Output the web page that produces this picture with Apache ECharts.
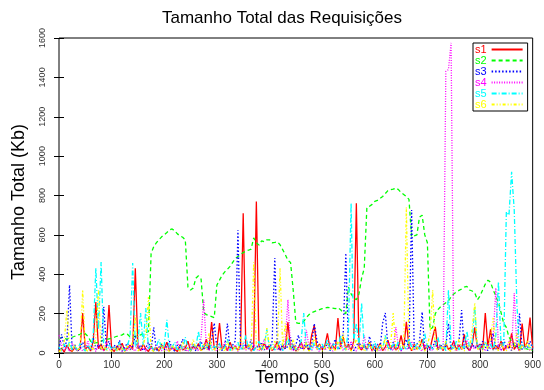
<!DOCTYPE html>
<html>
<head>
<meta charset="utf-8">
<script src="https://cdn.jsdelivr.net/npm/echarts@6/dist/echarts.min.js"></script>
<style>
  html, body { margin: 0; padding: 0; background: #fff; }
  #chart { width: 544px; height: 390px; }
</style>
</head>
<body>
<div id="chart"></div>
<script>
// Request size per client, one sample every 5 seconds (0 .. 900 s)
const sampleStep = 5;

const seriesNames = ['s1', 's2', 's3', 's4', 's5', 's6'];

const s1 = [
  10, 25, 5, 40, 15, 8, 30, 12, 20, 203, 18, 35, 10, 60, 259, 22, 45, 12, 30, 244,
  20, 8, 35, 15, 50, 10, 25, 40, 18, 431, 30, 12, 45, 20, 8, 35, 15, 28, 10, 40,
  22, 55, 12, 30, 18, 8, 42, 15, 25, 60, 10, 35, 20, 48, 12, 28, 70, 15, 157, 25,
  30, 152, 18, 40, 12, 55, 20, 35, 15, 45, 710, 25, 40, 10, 30, 770, 35, 15, 50, 20,
  40, 12, 28, 60, 15, 35, 22, 157, 18, 42, 10, 30, 55, 20, 38, 12, 90, 140, 25, 45,
  18, 35, 100, 20, 40, 15, 178, 30, 80, 22, 45, 12, 60, 760, 28, 15, 40, 20, 55, 10,
  35, 18, 48, 12, 30, 65, 20, 40, 15, 28, 90, 20, 159, 35, 12, 45, 20, 30, 70, 15,
  40, 22, 80, 133, 20, 35, 12, 50, 18, 30, 60, 15, 42, 20, 95, 28, 12, 40, 130, 25,
  45, 18, 203, 30, 120, 15, 38, 20, 60, 12, 35, 25, 100, 18, 40, 12, 150, 30, 55, 180,
  25
];

const s2 = [
  70, 80, 75, 70, 75, 80, 85, 90, 95, 103, 98, 85, 60, 50, 52, 55, 60, 65, 68, 72,
  75, 80, 85, 88, 92, 100, 95, 82, 80, 85, 88, 92, 98, 105, 108, 505, 540, 560, 575, 590,
  600, 612, 625, 630, 620, 605, 595, 588, 575, 335, 320, 330, 380, 392, 375, 205, 195, 190, 185, 180,
  345, 370, 395, 412, 425, 440, 460, 480, 490, 500, 510, 518, 522, 528, 585, 560, 548, 570, 565, 575,
  575, 560, 562, 565, 550, 525, 500, 470, 460, 320, 155, 150, 152, 160, 180, 195, 205, 210, 215, 220,
  225, 228, 232, 230, 228, 225, 230, 220, 205, 200, 335, 300, 280, 270, 300, 380, 430, 740, 745, 755,
  770, 775, 785, 795, 810, 825, 830, 832, 838, 830, 815, 805, 795, 780, 590, 595, 600, 690, 700, 600,
  560, 120, 130, 200, 220, 235, 245, 255, 265, 285, 300, 310, 318, 325, 335, 338, 320, 315, 305, 270,
  290, 320, 350, 370, 360, 320, 290, 255, 205, 150, 130, 80, 60, 40, 30, 25, 20, 25, 20, 15,
  15
];

const s3 = [
  20, 95, 30, 60, 345, 15, 40, 10, 25, 55, 18, 35, 12, 80, 20, 45, 15, 235, 30, 60,
  12, 40, 20, 65, 10, 30, 50, 15, 35, 90, 20, 40, 12, 28, 55, 18, 130, 10, 30, 45,
  15, 35, 60, 20, 10, 40, 25, 70, 12, 30, 18, 45, 10, 35, 60, 20, 40, 15, 65, 152,
  25, 45, 12, 35, 150, 20, 40, 60, 624, 30, 15, 45, 20, 70, 12, 35, 25, 55, 15, 40,
  20, 60, 482, 30, 12, 45, 20, 35, 80, 15, 40, 91, 18, 30, 55, 12, 40, 150, 65, 15,
  35, 20, 50, 12, 40, 70, 18, 30, 95, 507, 25, 45, 12, 35, 60, 20, 40, 15, 85, 30,
  12, 45, 20, 152, 203, 30, 15, 55, 25, 40, 12, 35, 70, 20, 726, 25, 45, 60, 208, 18,
  40, 15, 30, 65, 12, 45, 20, 35, 150, 15, 40, 25, 60, 218, 20, 35, 12, 50, 25, 40,
  15, 60, 30, 12, 45, 100, 20, 40, 15, 70, 25, 35, 12, 55, 30, 200, 18, 40, 25, 60,
  20
];

const s4 = [
  90, 40, 15, 30, 8, 50, 20, 12, 35, 10, 25, 60, 15, 30, 8, 40, 18, 12, 55, 20,
  10, 30, 15, 45, 8, 25, 12, 38, 20, 10, 50, 15, 28, 8, 35, 18, 10, 45, 20, 12,
  30, 10, 40, 15, 25, 60, 12, 35, 18, 8, 45, 20, 30, 10, 80, 270, 25, 12, 40, 18,
  10, 35, 20, 55, 12, 30, 15, 40, 8, 25, 50, 15, 30, 10, 45, 20, 12, 35, 70, 15,
  28, 10, 40, 18, 30, 12, 60, 270, 25, 10, 35, 15, 50, 20, 117, 30, 12, 45, 20, 8,
  35, 15, 28, 55, 10, 30, 20, 45, 12, 35, 18, 60, 25, 10, 40, 20, 90, 15, 35, 12,
  45, 20, 10, 30, 15, 55, 25, 12, 132, 30, 10, 40, 18, 28, 60, 12, 35, 20, 10, 45,
  15, 30, 12, 50, 20, 35, 15, 1430, 1440, 1575, 25, 10, 40, 18, 30, 65, 12, 35, 20, 50,
  15, 30, 10, 45, 20, 80, 330, 35, 12, 40, 20, 60, 15, 305, 30, 10, 45, 20, 35, 12,
  25
];

const s5 = [
  30, 10, 45, 20, 60, 15, 35, 12, 50, 25, 10, 40, 20, 90, 431, 120, 462, 30, 15, 45,
  20, 35, 10, 55, 25, 12, 40, 80, 457, 30, 60, 203, 40, 228, 20, 45, 12, 35, 70, 20,
  40, 168, 15, 30, 55, 12, 35, 20, 80, 25, 10, 45, 30, 110, 15, 40, 20, 60, 12, 35,
  25, 50, 15, 30, 70, 12, 40, 20, 55, 15, 35, 90, 20, 45, 12, 30, 60, 18, 40, 120,
  20, 45, 15, 35, 60, 12, 30, 80, 20, 45, 15, 35, 60, 203, 25, 40, 12, 55, 30, 18,
  45, 20, 70, 15, 35, 50, 20, 90, 30, 15, 120, 761, 60, 150, 40, 254, 30, 15, 45, 20,
  60, 12, 35, 20, 90, 30, 15, 45, 25, 60, 12, 35, 20, 75, 30, 15, 50, 20, 40, 100,
  25, 45, 15, 35, 80, 20, 45, 12, 320, 35, 20, 60, 15, 40, 25, 110, 30, 50, 235, 20,
  40, 15, 60, 25, 45, 15, 90, 362, 40, 40, 717, 700, 920, 726, 250, 20, 55, 15, 35, 25,
  45
];

const s6 = [
  5, 20, 60, 218, 30, 10, 45, 15, 25, 320, 20, 8, 35, 12, 80, 320, 15, 40, 10, 25,
  8, 30, 12, 45, 20, 5, 35, 15, 60, 193, 10, 25, 40, 90, 284, 20, 8, 30, 15, 50,
  10, 25, 5, 40, 18, 30, 8, 55, 15, 25, 10, 70, 20, 35, 8, 45, 15, 100, 25, 10,
  40, 15, 30, 8, 60, 20, 12, 35, 10, 80, 25, 15, 45, 10, 462, 30, 12, 50, 20, 127,
  35, 15, 60, 20, 431, 25, 152, 40, 15, 70, 20, 8, 35, 15, 55, 10, 30, 80, 15, 40,
  10, 25, 50, 12, 35, 8, 60, 20, 100, 15, 40, 10, 30, 70, 15, 45, 8, 25, 55, 12,
  30, 10, 45, 20, 80, 15, 35, 203, 20, 10, 50, 25, 740, 30, 12, 40, 15, 65, 20, 10,
  45, 90, 320, 30, 12, 40, 15, 60, 20, 8, 35, 15, 70, 25, 10, 40, 20, 120, 254, 15,
  30, 10, 55, 20, 80, 178, 25, 12, 45, 20, 8, 60, 15, 35, 100, 10, 40, 20, 65, 15,
  30
];

const seriesValues = [s1, s2, s3, s4, s5, s6];

// gnuplot-like colours and dash patterns for the six clients
const lineColors = ['#ff0000', '#00ff00', '#0000ff', '#ff00ff', '#00ffff', '#ffff00'];
const lineDashes = ['solid', [4, 3], [1.5, 2], [1, 1.5], [5, 2, 1, 2], [3, 2, 1, 2, 1, 2]];

const FONT = "'Liberation Sans', Arial, Helvetica, sans-serif";

const chart = echarts.init(document.getElementById('chart'), null, { renderer: 'canvas' });

const toPairs = (values) => values.map((v, i) => [i * sampleStep, v]);

const tickStyle = { show: true, inside: true, length: 5, lineStyle: { color: '#000', width: 1 } };

const option = {
  backgroundColor: '#fff',
  animation: false,
  textStyle: { fontFamily: FONT },
  grid: {
    left: 59, right: 10, top: 38, bottom: 37,
    show: true, borderColor: '#000', borderWidth: 1, backgroundColor: 'transparent'
  },
  xAxis: [
    {
      type: 'value', min: 0, max: 900, interval: 100, position: 'bottom',
      axisLine: { show: false }, axisTick: tickStyle, splitLine: { show: false },
      axisLabel: { color: '#333', fontSize: 10, margin: 7, fontFamily: FONT }
    },
    {
      type: 'value', min: 0, max: 900, interval: 100, position: 'top',
      axisLine: { show: false }, axisTick: tickStyle, splitLine: { show: false },
      axisLabel: { show: false }
    }
  ],
  yAxis: [
    {
      type: 'value', min: 0, max: 1600, interval: 200, position: 'left',
      axisLine: { show: false }, axisTick: tickStyle, splitLine: { show: false },
      axisLabel: {
        color: '#333', fontSize: 9, rotate: 90, margin: 12, fontFamily: FONT,
        formatter: (v) => String(v)
      }
    },
    {
      type: 'value', min: 0, max: 1600, interval: 200, position: 'right',
      axisLine: { show: false }, axisTick: tickStyle, splitLine: { show: false },
      axisLabel: { show: false }
    }
  ],
  legend: {
    orient: 'vertical',
    left: 473, top: 43,
    align: 'right',
    itemWidth: 31, itemHeight: 8, itemGap: 0,
    padding: [1, 4, 1, 2],
    borderColor: '#000', borderWidth: 1,
    backgroundColor: '#fff',
    itemStyle: { opacity: 0 },
    textStyle: { fontSize: 11, lineHeight: 11, fontFamily: FONT },
    data: seriesNames.map((n, i) => ({ name: n, textStyle: { color: lineColors[i] } }))
  },
  graphic: [
    {
      type: 'text', left: 285 - 123, top: 10,
      style: { text: 'Tamanho Total das Requisições', fill: '#000', font: '17px ' + FONT }
    },
    {
      type: 'text', x: 295, y: 378,
      style: { text: 'Tempo (s)', fill: '#000', font: '18px ' + FONT, textAlign: 'center', textVerticalAlign: 'middle' }
    },
    {
      type: 'text', x: 19, y: 202, rotation: Math.PI / 2,
      style: { text: 'Tamanho Total (Kb)', fill: '#000', font: '18px ' + FONT, textAlign: 'center', textVerticalAlign: 'middle' }
    }
  ],
  series: seriesNames.map((name, i) => ({
    name,
    type: 'line',
    data: toPairs(seriesValues[i]),
    xAxisIndex: 0, yAxisIndex: 0,
    symbol: 'none', showSymbol: false,
    clip: true,
    lineStyle: { color: lineColors[i], width: 1.3, type: lineDashes[i] },
    itemStyle: { color: lineColors[i] },
    emphasis: { disabled: true }
  }))
};

chart.setOption(option);
</script>
</body>
</html>
